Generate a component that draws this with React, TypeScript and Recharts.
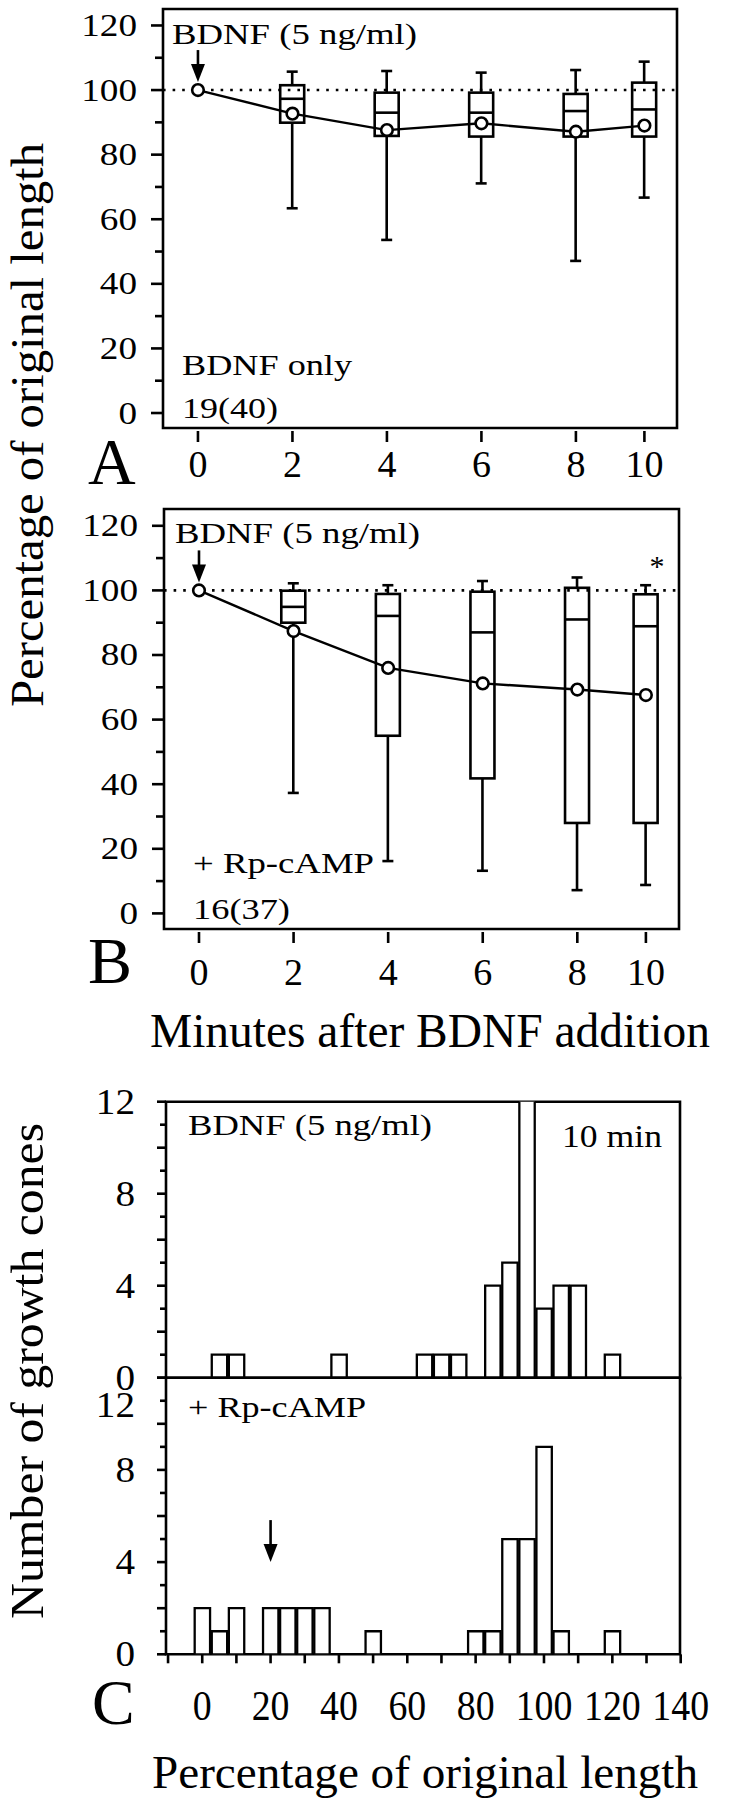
import React from 'react';
import {
  ComposedChart, Bar, Line, XAxis, YAxis, ReferenceLine, ReferenceArea, ReferenceDot
} from 'recharts';

const FONT = 'Liberation Serif, Times New Roman, Times, serif';

// A & B: time after BDNF addition (last point sits a bit left of "10" on the original)
const minutePos = [0, 2, 4, 6, 8, 9.45];
const minuteLabels = ['0', '2', '4', '6', '8', '10'];
const pctTicks = [0, 10, 20, 30, 40, 50, 60, 70, 80, 90, 100, 110, 120];

// A: BDNF only
const meanA = [100, 92.7, 87.6, 89.7, 87.1, 89.0];
const hiA = [null, 105.7, 105.9, 105.4, 106.2, 108.8];
const q3A = [null, 101.5, 99.2, 99.2, 98.8, 102.3];
const medA = [null, 97.3, 93.0, 93.0, 93.5, 94.0];
const q1A = [null, 89.9, 85.8, 85.6, 85.6, 85.6];
const loA = [null, 63.4, 53.6, 71.1, 47.1, 66.7];

// B: + Rp-cAMP
const meanB = [100, 87.4, 76.0, 71.2, 69.3, 67.6];
const hiB = [null, 102.2, 101.6, 102.9, 104.0, 101.6];
const q3B = [null, 99.9, 98.9, 99.6, 100.8, 98.8];
const medB = [null, 94.9, 92.1, 87.0, 91.0, 88.9];
const q1B = [null, 90.0, 55.0, 41.8, 28.0, 28.0];
const loB = [null, 37.3, 16.2, 13.2, 7.2, 8.8];

// C: histograms at 10 min
const binCenters = [0, 5, 10, 15, 20, 25, 30, 35, 40, 45, 50, 55, 60, 65, 70, 75, 80, 85, 90, 95, 100, 105, 110, 115, 120];
const countsBDNF = [0, 1, 1, 0, 0, 0, 0, 0, 1, 0, 0, 0, 0, 1, 1, 1, 0, 4, 5, 13, 3, 4, 4, 0, 1];
const countsRp = [2, 1, 2, 0, 2, 2, 2, 2, 0, 0, 1, 0, 0, 0, 0, 0, 1, 1, 5, 5, 9, 1, 0, 0, 1];
const countTicks = [0, 1, 2, 3, 4, 5, 6, 7, 8, 9, 10, 11, 12];
const pctBinTicks = [-10, 0, 10, 20, 30, 40, 50, 60, 70, 80, 90, 100, 110, 120, 130, 140];
const rpArrow = { x: 20, y: 4 };

const boxRows = (mean, hi, q3, med, q1, lo) =>
  minutePos.map((t, i) => ({ t, mean: mean[i], hi: hi[i], q3: q3[i], med: med[i], q1: q1[i], lo: lo[i] }));

const rowsA = boxRows(meanA, hiA, q3A, medA, q1A, loA);
const rowsB = boxRows(meanB, hiB, q3B, medB, q1B, loB);
const histTop = binCenters.map((b, i) => ({ b, n: countsBDNF[i] }));
const histBottom = binCenters.map((b, i) => ({ b, n: countsRp[i] }));

const SW = 2.6;

const BoxShape = (p: any) => {
  const d = p.payload;
  if (!d || d.lo == null) return <g />;
  const top = Math.min(p.y, p.y + p.height);
  const h = Math.abs(p.height);
  const py = (v: number) => top + (h * (d.hi - v)) / (d.hi - d.lo);
  const cx = p.x + p.width / 2;
  return (
    <g stroke="#000" strokeWidth={SW} fill="none">
      <line x1={cx} x2={cx} y1={top} y2={top + h} />
      <line x1={cx - 5.5} x2={cx + 5.5} y1={top} y2={top} />
      <line x1={cx - 5.5} x2={cx + 5.5} y1={top + h} y2={top + h} />
      <rect x={p.x} y={py(d.q3)} width={p.width} height={py(d.q1) - py(d.q3)} fill="#fff" />
      <line x1={p.x} x2={p.x + p.width} y1={py(d.med)} y2={py(d.med)} />
    </g>
  );
};

const ArrowDown = (len: number) => (p: any) => (
  <g>
    <line x1={p.cx} x2={p.cx} y1={p.cy - len} y2={p.cy - 22} stroke="#000" strokeWidth={SW} />
    <path d={`M${p.cx - 7},${p.cy - 26} L${p.cx + 7},${p.cy - 26} L${p.cx},${p.cy - 8} Z`} fill="#000" />
  </g>
);

const ArrowTip = (len: number) => (p: any) => (
  <g>
    <line x1={p.cx} x2={p.cx} y1={p.cy - len} y2={p.cy - 14} stroke="#000" strokeWidth={SW} />
    <path d={`M${p.cx - 7},${p.cy - 18} L${p.cx + 7},${p.cy - 18} L${p.cx},${p.cy} Z`} fill="#000" />
  </g>
);

const txtStyle = (size: number): React.CSSProperties => ({ fontFamily: FONT, fontSize: size });

const PctTick = (p: any) => {
  const v = p.payload.value;
  const major = v % 20 === 0;
  return (
    <g>
      <line x1={p.x - (major ? 12 : 8)} x2={p.x} y1={p.y} y2={p.y} stroke="#000" strokeWidth={SW} />
      {major && (
        <text transform={`translate(${p.x - 26},${p.y + 10.5}) scale(1.2,1)`} textAnchor="end"
          style={txtStyle(31)} fill="#000">{v}</text>
      )}
    </g>
  );
};

const MinuteTick = (labelDy: number) => (p: any) => {
  const i = minutePos.indexOf(p.payload.value);
  return (
    <g>
      <line x1={p.x} x2={p.x} y1={p.y + 3} y2={p.y + 14} stroke="#000" strokeWidth={SW} />
      <text transform={`translate(${p.x},${p.y + labelDy})`} textAnchor="middle"
        style={txtStyle(38)} fill="#000">{minuteLabels[i]}</text>
    </g>
  );
};

const CountTick = (topShift: number) => (p: any) => {
  const v = p.payload.value;
  const major = v % 2 === 0;
  const dy = v === 12 ? topShift : 0;
  return (
    <g>
      <line x1={p.x - (major ? 9 : 6)} x2={p.x} y1={p.y} y2={p.y} stroke="#000" strokeWidth={SW} />
      {v % 4 === 0 && (
        <text transform={`translate(${p.x - 31},${p.y + 12 + dy}) scale(1.12,1)`} textAnchor="end"
          style={txtStyle(35)} fill="#000">{v}</text>
      )}
    </g>
  );
};

const BinTick = (p: any) => {
  const v = p.payload.value;
  return (
    <g>
      <line x1={p.x} x2={p.x} y1={p.y} y2={p.y + 9} stroke="#000" strokeWidth={SW} />
      {v >= 0 && v % 20 === 0 && (
        <text transform={`translate(${p.x},${p.y + 66}) scale(0.9,1)`} textAnchor="middle"
          style={txtStyle(42)} fill="#000">{v}</text>
      )}
    </g>
  );
};

// text stretched to the width measured on the original figure
const Txt = ({ x, y, size = 29, w, rot = false, anchor = 'start', children }: any) => (
  <text transform={`translate(${x},${y})${rot ? ' rotate(-90)' : ''}`}
    style={txtStyle(size)} textAnchor={anchor} fill="#000"
    textLength={w} lengthAdjust={w ? 'spacingAndGlyphs' : undefined}>{children}</text>
);

function BoxPanel({ rows, yDomain, xDomain, margin, height, labelDy }: any) {
  return (
    <ComposedChart width={734} height={height} data={rows} margin={margin}>
      <XAxis dataKey="t" type="number" domain={xDomain} allowDataOverflow ticks={minutePos}
        height={1} axisLine={false} tickLine={false} tickSize={0} tickMargin={0}
        tick={MinuteTick(labelDy)} interval={0} />
      <YAxis type="number" domain={yDomain} allowDataOverflow ticks={pctTicks} width={1}
        axisLine={false} tickLine={false} tickSize={0} tickMargin={0} tick={PctTick} interval={0} />
      <ReferenceArea x1={xDomain[0]} x2={xDomain[1]} y1={yDomain[0]} y2={yDomain[1]}
        fill="none" stroke="#000" strokeWidth={SW} ifOverflow="visible" />
      <ReferenceLine y={100} stroke="#000" strokeWidth={2.6} strokeDasharray="2.6 7" />
      <Bar dataKey={(d: any) => (d.lo == null ? null : [d.lo, d.hi])} barSize={24}
        shape={BoxShape} isAnimationActive={false} />
      <Line dataKey="mean" stroke="#000" strokeWidth={2.4} isAnimationActive={false}
        dot={{ r: 5.8, fill: '#fff', stroke: '#000', strokeWidth: 2.6 }} />
      <ReferenceDot x={0} y={100} r={0} shape={ArrowDown(40)} />
    </ComposedChart>
  );
}

function HistPanel({ rows, margin, height, showX, topShift, arrow }: any) {
  const xDomain = [-10.6, 139.8];
  return (
    <ComposedChart width={734} height={height} data={rows} margin={margin}>
      <XAxis dataKey="b" type="number" domain={xDomain} allowDataOverflow ticks={pctBinTicks}
        hide={!showX} height={1} axisLine={false} tickLine={false} tickSize={0} tickMargin={0}
        tick={BinTick} interval={0} />
      <YAxis type="number" domain={[0, 12]} allowDataOverflow ticks={countTicks} width={1}
        axisLine={false} tickLine={false} tickSize={0} tickMargin={0} tick={CountTick(topShift)} interval={0} />
      <Bar dataKey="n" barSize={17.1} fill="#fff" stroke="#000" strokeWidth={2.3} isAnimationActive={false} />
      <ReferenceArea x1={xDomain[0]} x2={xDomain[1]} y1={0} y2={12}
        fill="none" stroke="#000" strokeWidth={SW} ifOverflow="visible" />
      {arrow && <ReferenceDot x={arrow.x} y={arrow.y} r={0} shape={ArrowTip(42)} />}
    </ComposedChart>
  );
}

export default function App() {
  const abs = (top: number): React.CSSProperties => ({ position: 'absolute', left: 0, top });
  return (
    <div style={{ position: 'absolute', left: 0, top: 0, width: 734, height: 1800, background: '#fff', overflow: 'hidden' }}>
      <div style={abs(0)}>
        <BoxPanel rows={rowsA} height={500} xDomain={[-0.74, 10.14]} yDomain={[-4.64, 125.1]} labelDy={49}
          margin={{ top: 9, right: 57, bottom: 71, left: 162 }} />
      </div>
      <div style={abs(480)}>
        <BoxPanel rows={rowsB} height={520} xDomain={[-0.74, 10.15]} yDomain={[-4.83, 125.2]} labelDy={56}
          margin={{ top: 29, right: 55, bottom: 70, left: 163 }} />
      </div>
      <div style={abs(1060)}>
        <HistPanel rows={histTop} height={340} showX={false} topShift={0}
          margin={{ top: 41.7, right: 54, bottom: 22.3, left: 165 }} />
      </div>
      <div style={abs(1340)}>
        <HistPanel rows={histBottom} height={460} showX topShift={27} arrow={rpArrow}
          margin={{ top: 37.7, right: 54, bottom: 144.7, left: 165 }} />
      </div>
      <svg width={734} height={1800} style={{ position: 'absolute', left: 0, top: 0, pointerEvents: 'none' }}>
        <Txt x={43} y={425} size={47} w={564} rot anchor="middle">Percentage of original length</Txt>
        <Txt x={43} y={1371} size={47} w={496} rot anchor="middle">Number of growth cones</Txt>

        <Txt x={172} y={44} w={245}>BDNF (5 ng/ml)</Txt>
        <Txt x={182} y={375} w={170}>BDNF only</Txt>
        <Txt x={182} y={418} w={96}>19(40)</Txt>
        <Txt x={88} y={484} size={66}>A</Txt>

        <Txt x={175} y={543} w={245}>BDNF (5 ng/ml)</Txt>
        <Txt x={193} y={873} w={181}>+ Rp-cAMP</Txt>
        <Txt x={193} y={919} w={97}>16(37)</Txt>
        <Txt x={657} y={576} size={30} anchor="middle">*</Txt>
        <Txt x={88} y={983} size={66}>B</Txt>
        <Txt x={150} y={1047} size={48} w={560}>Minutes after BDNF addition</Txt>

        <Txt x={188} y={1135} w={244}>BDNF (5 ng/ml)</Txt>
        <Txt x={562} y={1147} size={31} w={100}>10 min</Txt>
        <Txt x={188} y={1417} w={178}>+ Rp-cAMP</Txt>
        <Txt x={92} y={1724} size={64}>C</Txt>
        <Txt x={152} y={1788} size={47} w={546}>Percentage of original length</Txt>
      </svg>
    </div>
  );
}
